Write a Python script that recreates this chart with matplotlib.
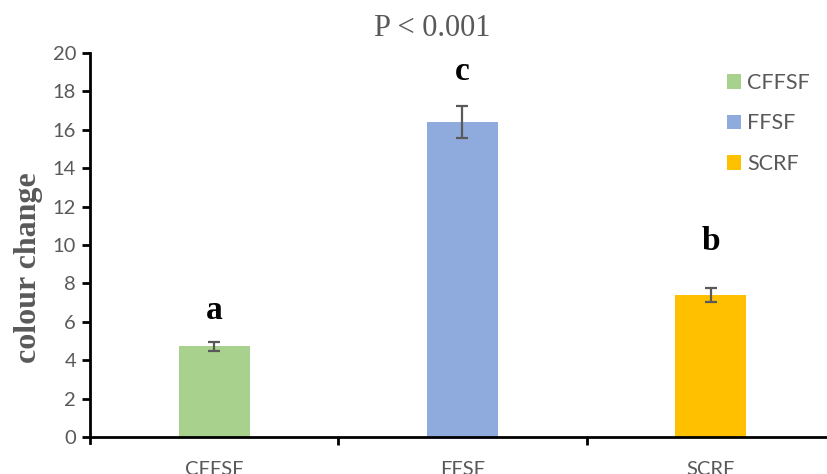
import matplotlib
matplotlib.use("Agg")
import matplotlib.pyplot as plt
from matplotlib.patches import Patch

categories = ["CFFSF", "FFSF", "SCRF"]
values = [4.72, 16.4, 7.4]
errors = [0.25, 0.82, 0.38]
letters = ["a", "c", "b"]
letter_y = [6.15, 18.6, 9.74]
colors = ["#A9D18E", "#8FAADC", "#FFC000"]
yticks = [0, 2, 4, 6, 8, 10, 12, 14, 16, 18, 20]

W, H = 827, 474
fig = plt.figure(figsize=(W / 100, H / 100), dpi=100)
left_px, right_px = 90, 827
bottom_px, top_px = 437, 53
ax = fig.add_axes([left_px / W, (H - bottom_px) / H,
                   (right_px - left_px) / W, (bottom_px - top_px) / H])

gray = "#595959"
x = list(range(len(categories)))
ax.bar(x, values, width=0.286, color=colors, zorder=2)
ax.errorbar(x, values, yerr=errors, fmt="none", ecolor=gray,
            elinewidth=1.6, capsize=4.5, capthick=1.6, zorder=3)

for xi, lt, ly in zip(x, letters, letter_y):
    ax.text(xi, ly, lt, ha="center", va="baseline", fontsize=24,
            fontweight="bold", family="Liberation Serif", color="black")

cat_px = 248.3
ax.set_xlim(-0.5, -0.5 + (right_px - left_px) / cat_px)
ax.set_ylim(0, 20)
ax.set_yticks(yticks)
ax.set_xticks(x)
ax.set_xticklabels(categories)
ax.set_xticks([0.5, 1.5], minor=True)
ax.tick_params(axis="x", which="major", length=0, pad=17)
ax.tick_params(axis="x", which="minor", length=6, width=2, direction="out", color="black")
ax.tick_params(axis="y", length=6, width=2, direction="out", color="black", pad=4)
for lab in ax.get_xticklabels() + ax.get_yticklabels():
    lab.set_family("Lato")
    lab.set_fontsize(14.5)
    lab.set_color(gray)

for s in ["top", "right"]:
    ax.spines[s].set_visible(False)
for s in ["left", "bottom"]:
    ax.spines[s].set_linewidth(2)
    ax.spines[s].set_color("black")
ax.spines["left"].set_bounds(-0.3, 20)

ax.set_ylabel("colour change", family="Liberation Serif", fontweight="bold",
              fontsize=23, color=gray)
ax.yaxis.set_label_coords((43 - left_px) / (right_px - left_px),
                          (bottom_px - 268) / (bottom_px - top_px))

fig.text(432 / W, 1 - 29 / H, "P < 0.001", ha="center", va="center",
         family="Liberation Serif", fontsize=22, color=gray)

handles = [Patch(facecolor=c, edgecolor="none") for c in colors]
leg = ax.legend(handles, categories, loc="upper left",
                bbox_to_anchor=(727 / W, 1 - 73 / H), bbox_transform=fig.transFigure,
                frameon=False, borderpad=0, borderaxespad=0,
                handlelength=0.65, handleheight=0.65, handletextpad=0.3,
                labelspacing=0.95, prop={"family": "Lato", "size": 15.5})
for t in leg.get_texts():
    t.set_color(gray)

fig.savefig("out.png", dpi=100)
